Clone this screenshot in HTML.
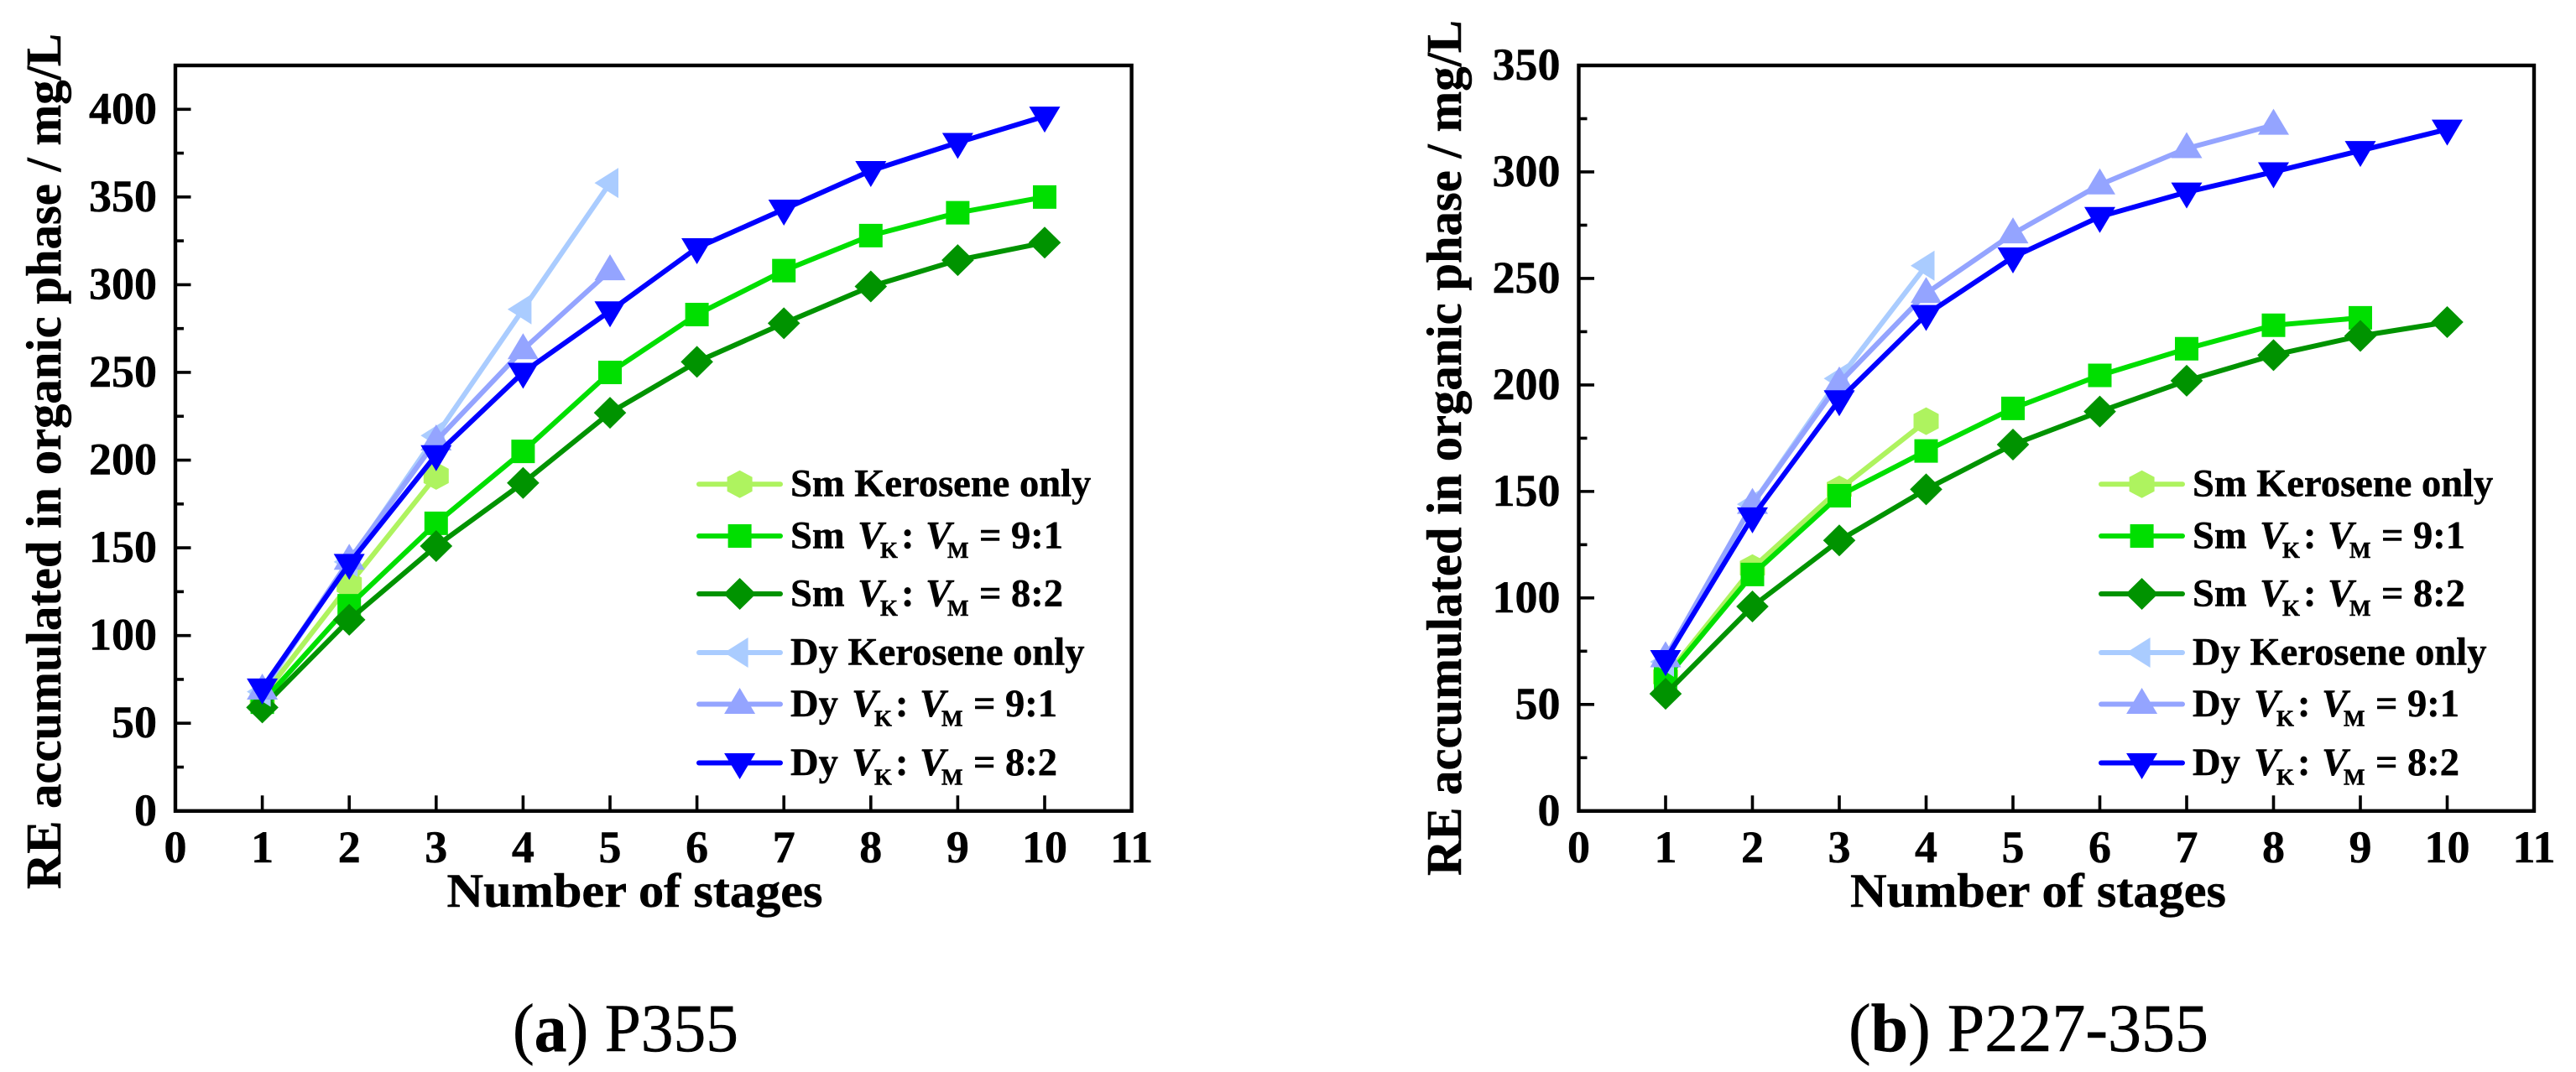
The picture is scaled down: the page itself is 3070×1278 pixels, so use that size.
<!DOCTYPE html>
<html lang="en">
<head>
<meta charset="utf-8">
<title>RE accumulated in organic phase vs number of stages</title>
<style>
  html, body { margin: 0; padding: 0; background: #fff; }
  svg { display: block; }
  text { font-family: "Liberation Serif", serif; fill: #000; stroke: #000; stroke-width: 0.5px; }
</style>
</head>
<body>
<svg id="figure" xmlns="http://www.w3.org/2000/svg" width="3070" height="1278" viewBox="0 0 3070 1278">
  <rect x="0" y="0" width="3070" height="1278" fill="#ffffff"/>
</svg>
<script>
// Shared categories and tick labels
const stages = [1, 2, 3, 4, 5, 6, 7, 8, 9, 10];
const xTickLabels = [0, 1, 2, 3, 4, 5, 6, 7, 8, 9, 10, 11];
const yTickLabelsA = [0, 50, 100, 150, 200, 250, 300, 350, 400];
const yMinorTicksA = [25, 75, 125, 175, 225, 275, 325, 375];
const yTickLabelsB = [0, 50, 100, 150, 200, 250, 300, 350];
const yMinorTicksB = [25, 75, 125, 175, 225, 275, 325];

// Panel (a) P355
const aSmKerosene = [65, 129, 191];
const aSmRatio91 = [62, 117, 164, 205, 250, 283, 308, 328, 341, 350];
const aSmRatio82 = [59, 109, 151, 187, 227, 256, 278, 299, 314, 324];
const aDyKerosene = [68, 142, 214, 286, 358];
const aDyRatio91 = [69, 143, 211, 263, 308];
const aDyRatio82 = [70, 141, 203, 250, 285, 321, 343, 365, 381, 396];

// Panel (b) P227-355
const bSmKerosene = [63, 114, 151, 183];
const bSmRatio91 = [62, 111, 148, 169, 189, 204.5, 217, 228, 231.5];
const bSmRatio82 = [55, 96, 127, 151, 172, 187.5, 202, 214, 223, 229.5];
const bDyKerosene = [70, 144, 203, 256];
const bDyRatio91 = [72, 144, 201, 243, 271, 294, 311, 322];
const bDyRatio82 = [71, 138, 193, 233, 260, 279, 290.5, 300, 310, 320];

const NS = 'http://www.w3.org/2000/svg';
const figure = document.getElementById('figure');

function el(tag, attrs, parent, content) {
  const node = document.createElementNS(NS, tag);
  for (const k in attrs) node.setAttribute(k, attrs[k]);
  if (content !== undefined) node.textContent = content;
  parent.appendChild(node);
  return node;
}

function markerPoints(kind) {
  if (kind === 'hexagon') return '0,-16.5 15,-8.5 15,8.5 0,16.5 -15,8.5 -15,-8.5';
  if (kind === 'square') return '-14,-14 14,-14 14,14 -14,14';
  if (kind === 'diamond') return '0,-19 19.3,0 0,19 -19.3,0';
  if (kind === 'left') return '-18.5,0 10,-18 10,18';
  if (kind === 'up') return '0,-19.5 18.5,11.5 -18.5,11.5';
  return '0,19.5 18.5,-11.5 -18.5,-11.5';
}

function drawMarker(parent, kind, color, cx, cy) {
  const m = el('polygon', { points: markerPoints(kind), fill: color, transform: 'translate(' + cx + ' ' + cy + ')' }, parent);
  
  
}

function drawSeries(parent, name, values, kind, color, xScale, yScale) {
  const g = el('g', {}, parent);
  
  
  const pts = values.map((v, i) => xScale(stages[i]) + ',' + yScale(v)).join(' ');
  const line = el('polyline', { points: pts, fill: 'none', stroke: color, 'stroke-width': 6, 'stroke-linejoin': 'round' }, g);
  
  
  values.forEach((v, i) => drawMarker(g, kind, color, xScale(stages[i]), yScale(v)));
}

function drawLegendRow(parent, name, element, suffix, ratio, kind, color, lineY, left) {
  const g = el('g', {}, parent);
  
  
  const sample = el('line', { x1: left + 2, x2: left + 99, y1: lineY, y2: lineY, stroke: color, 'stroke-width': 6, 'stroke-linecap': 'round' }, g);
  
  
  drawMarker(g, kind, color, left + 50.6, lineY);
  const tx = left + 111;
  const base = lineY + 14.3;
  const t = el('text', { x: tx, y: base, 'font-size': 46.5, 'font-weight': 'bold' }, g);
  
  
  if (!ratio) {
    t.textContent = element + ' ' + suffix;
    return;
  }
  const shift = element === 'Dy' ? -7 : 0;
  el('tspan', {}, t, element);
  el('tspan', { x: tx + 80 + shift, 'font-style': 'italic' }, t, 'V');
  el('tspan', { x: tx + 107 + shift, y: base + 11.5, 'font-size': 27 }, t, 'K');
  el('tspan', { x: tx + 132 + shift, y: base }, t, ':');
  el('tspan', { x: tx + 161 + shift, 'font-style': 'italic' }, t, 'V');
  el('tspan', { x: tx + 187 + shift, y: base + 11.5, 'font-size': 27 }, t, 'M');
  el('tspan', { x: tx + 225 + shift, y: base }, t, '=');
  el('tspan', { x: tx + 263 + shift }, t, ratio);
}

function drawPanel(p) {
  const panel = el('g', {}, figure);
  
  

  const xScale = v => p.left + (v / 11) * (p.right - p.left);
  const yScale = v => p.bottom - (v / p.yMax) * (p.bottom - p.top);

  // series, legend order = draw order
  p.series.forEach(s => drawSeries(panel, s.name, s.values, s.kind, s.color, xScale, yScale));

  // axis ticks
  const xAxis = el('g', {}, panel);
  
  
  xTickLabels.forEach(v => {
    const x = xScale(v);
    if (v > 0 && v < 11) {
      const tick = el('line', { x1: x, x2: x, y1: p.bottom, y2: p.bottom - 18.5, stroke: '#000', 'stroke-width': 3.6 }, xAxis);
      
      
    }
    const label = el('text', { x: x, y: 1028, 'font-size': 54, 'font-weight': 'bold', 'text-anchor': 'middle' }, xAxis, String(v));
    
    
  });

  const yAxis = el('g', {}, panel);
  
  
  p.yTicks.forEach(v => {
    const y = yScale(v);
    if (v > 0 && v < p.yMax) {
      const tick = el('line', { x1: p.left, x2: p.left + 18.5, y1: y, y2: y, stroke: '#000', 'stroke-width': 3.6 }, yAxis);
      
      
    }
    const label = el('text', { x: p.left - 22, y: y + 17, 'font-size': 54, 'font-weight': 'bold', 'text-anchor': 'end' }, yAxis, String(v));
    
    
  });
  p.yMinor.forEach(v => {
    const y = yScale(v);
    const tick = el('line', { x1: p.left, x2: p.left + 10, y1: y, y2: y, stroke: '#000', 'stroke-width': 3.6 }, yAxis);
    
    
  });

  // frame
  const frame = el('rect', { x: p.left, y: p.top, width: p.right - p.left, height: p.bottom - p.top, fill: 'none', stroke: '#000', 'stroke-width': 4.4 }, panel);
  
  

  // titles
  const xTitle = el('text', { x: p.xTitleX, y: 1081, 'font-size': 57, 'font-weight': 'bold', textLength: 448, lengthAdjust: 'spacingAndGlyphs' }, panel, 'Number of stages');
  
  

  const yTitle = el('text', { transform: 'translate(' + p.yTitleX + ' ' + p.yTitleBottom + ') rotate(-90)', x: 0, y: 0, 'font-size': 59, 'font-weight': 'bold', textLength: 1020, lengthAdjust: 'spacingAndGlyphs' }, panel, 'RE accumulated in organic phase / mg/L');
  
  

  // legend
  const legend = el('g', {}, panel);
  
  
  const L = p.legendLeft;
  drawLegendRow(legend, 'sm-kerosene', 'Sm', 'Kerosene only', '', 'hexagon', p.series[0].color, 577.3, L);
  drawLegendRow(legend, 'sm-9-1', 'Sm', '', '9:1', 'square', p.series[1].color, 639, L);
  drawLegendRow(legend, 'sm-8-2', 'Sm', '', '8:2', 'diamond', p.series[2].color, 708, L);
  drawLegendRow(legend, 'dy-kerosene', 'Dy', 'Kerosene only', '', 'left', p.series[3].color, 778, L);
  drawLegendRow(legend, 'dy-9-1', 'Dy', '', '9:1', 'up', p.series[4].color, 839.5, L);
  drawLegendRow(legend, 'dy-8-2', 'Dy', '', '8:2', 'down', p.series[5].color, 909.5, L);

  // caption
  const caption = el('text', { x: p.captionX, y: 1253, 'font-size': 82, textLength: p.captionWidth, lengthAdjust: 'spacingAndGlyphs' }, panel);
  
  
  el('tspan', {}, caption, '(');
  el('tspan', { 'font-weight': 'bold' }, caption, p.id);
  el('tspan', {}, caption, ') ' + p.title);
}

const colors = ['#AEF35F', '#00DF00', '#009300', '#AACCFF', '#94A4FF', '#0000FF'];

drawPanel({
  id: 'a', title: 'P355', left: 209, right: 1348.6, top: 78, bottom: 966.8, yMax: 425,
  yTicks: yTickLabelsA, yMinor: yMinorTicksA,
  xTitleX: 532.5, yTitleX: 72, yTitleBottom: 1060, legendLeft: 831,
  captionX: 611, captionWidth: 269,
  series: [
    { name: 'sm-kerosene', values: aSmKerosene, kind: 'hexagon', color: colors[0] },
    { name: 'sm-9-1', values: aSmRatio91, kind: 'square', color: colors[1] },
    { name: 'sm-8-2', values: aSmRatio82, kind: 'diamond', color: colors[2] },
    { name: 'dy-kerosene', values: aDyKerosene, kind: 'left', color: colors[3] },
    { name: 'dy-9-1', values: aDyRatio91, kind: 'up', color: colors[4] },
    { name: 'dy-8-2', values: aDyRatio82, kind: 'down', color: colors[5] }
  ]
});

drawPanel({
  id: 'b', title: 'P227-355', left: 1881.5, right: 3020, top: 78, bottom: 966.8, yMax: 350,
  yTicks: yTickLabelsB, yMinor: yMinorTicksB,
  xTitleX: 2205, yTitleX: 1741, yTitleBottom: 1044, legendLeft: 2502,
  captionX: 2203, captionWidth: 429,
  series: [
    { name: 'sm-kerosene', values: bSmKerosene, kind: 'hexagon', color: colors[0] },
    { name: 'sm-9-1', values: bSmRatio91, kind: 'square', color: colors[1] },
    { name: 'sm-8-2', values: bSmRatio82, kind: 'diamond', color: colors[2] },
    { name: 'dy-kerosene', values: bDyKerosene, kind: 'left', color: colors[3] },
    { name: 'dy-9-1', values: bDyRatio91, kind: 'up', color: colors[4] },
    { name: 'dy-8-2', values: bDyRatio82, kind: 'down', color: colors[5] }
  ]
});
</script>
</body>
</html>
